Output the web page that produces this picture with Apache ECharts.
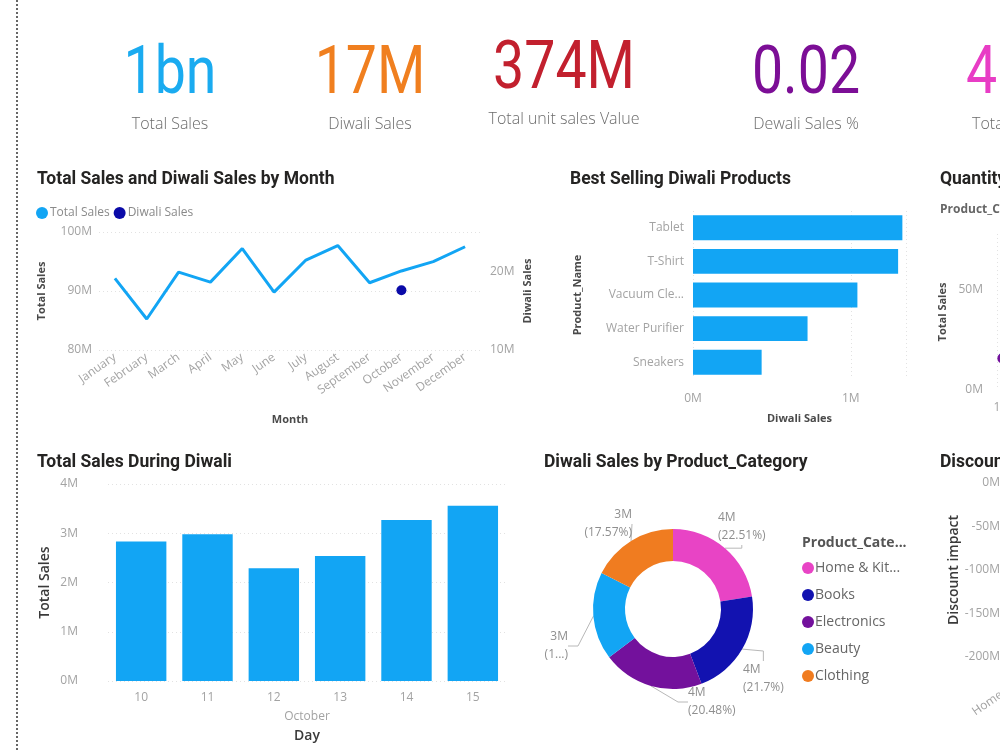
<!DOCTYPE html>
<html><head><meta charset="utf-8">
<script src="https://cdn.jsdelivr.net/npm/echarts@6/dist/echarts.min.js"></script>
<style>html,body{margin:0;padding:0;background:#fff}#c{width:1000px;height:750px}</style>
</head><body><div id="c"></div>
<script>
// ---- data ----
const months = ['January','February','March','April','May','June','July','August','September','October','November','December'];
const totalSalesByMonth = [92.15, 85.25, 93.2, 91.5, 97.2, 89.8, 95.25, 97.7, 91.4, 93.4, 94.97, 97.5]; // M
const diwaliSalesByMonth = ['-', '-', '-', '-', '-', '-', '-', '-', '-', 17.6, '-', '-']; // M
const products = ['Tablet','T-Shirt','Vacuum Cleaner','Water Purifier','Sneakers'];
const productDiwaliSales = [1.327, 1.30, 1.042, 0.726, 0.435]; // M
const diwaliDays = ['10','11','12','13','14','15'];
const diwaliDayMonth = ['October'];
const diwaliDaySales = [2.83, 2.98, 2.29, 2.54, 3.27, 3.56]; // M
const categories = ['Home & Kitchen','Books','Electronics','Beauty','Clothing'];
const categoryDiwaliSales = [3.894, 3.754, 3.543, 3.069, 3.040]; // M
const quantityPoints = [[1.15, 16.5], [1.12, 15.8], [1.18, 16.0]]; // [quantity, total sales M]
const discountImpact = [-190, -175, -165, -150, -140]; // M
const kpiValues = ['1bn','17M','374M','0.02','4'];
const kpiLabels = ['Total Sales','Diwali Sales','Total unit sales Value','Dewali Sales %','Total'];

// ---- styles / layout ----
const C = {blue:'#12A5F4', navy:'#1212B0', purple:'#73119C', pink:'#E844C5', orange:'#F07C20'};
const catColors = [C.pink, C.navy, C.purple, C.blue, C.orange];
const LBL = {color:'#A3A3A3', fontSize:12, fontFamily:'Open Sans'};
const NAME = {color:'#4a4a4a', fontSize:11, fontWeight:'bold', fontFamily:'Open Sans'};
const NAME2 = {color:'#3a3a3a', fontSize:14, fontWeight:600, fontFamily:'Open Sans'};
const SPLIT = {show:true, lineStyle:{color:'#E2E2E2', type:[1,3], width:1}};
const TT = {fontFamily:'Roboto', fontWeight:'bold', fontSize:17.5, color:'#252423'};
const M = v => v + 'M';
// pie label placement (anchor x, centre y, text alignment) per slice
const pieLabelPlace = [[718, 527, 'left'], [743, 679, 'left'], [688, 702, 'left'], [568, 646, 'right'], [632, 524, 'right']];

const kpiX = [170, 370, 564, 806, 966];
const kpiY = [76, 76, 71, 76, 76];
const kpiLY = [124, 124, 119, 124, 124];
const kpiColors = ['#1AABF0', '#F07F1F', '#C2202E', '#7C0E96', '#E83DC5'];
const graphics = [{type:'line', shape:{x1:17, y1:0, x2:17, y2:750}, style:{stroke:'#666', lineWidth:2, lineDash:[2,2]}}];
kpiValues.forEach((t, i) => {
  const last = i === 4;
  graphics.push({type:'text', x:kpiX[i], y:kpiY[i], scaleX:0.84,
    style:{text:t, fill:kpiColors[i], font:'400 66px Roboto', textAlign:last?'left':'center', textVerticalAlign:'middle'}});
  graphics.push({type:'text', x:last?972:kpiX[i], y:kpiLY[i],
    style:{text:kpiLabels[i], fill:'#6b6b6b', font:'300 16px "Open Sans"', textAlign:last?'left':'center', textVerticalAlign:'middle'}});
});

const grids = [
  {left:99, top:232, width:382, height:118},
  {left:693, top:211, width:213, height:168},
  {left:997, top:234, width:400, height:156},
  {left:108, top:484, width:398, height:197},
  {left:1006, top:483, width:420, height:174}
].map(g => Object.assign({outerBoundsMode:'none', containLabel:false}, g));
const noLine = {show:false};

const option = {
  backgroundColor:'#fff',
  animation:false,
  graphic: graphics,
  title: [
    {text:'Total Sales and Diwali Sales by Month', left:32, top:166, textStyle:TT},
    {text:'Best Selling Diwali Products', left:565, top:166, textStyle:TT},
    {text:'Quantity', left:935, top:166, textStyle:TT},
    {text:'Total Sales During Diwali', left:32, top:449, textStyle:TT},
    {text:'Diwali Sales by Product_Category', left:539, top:449, textStyle:TT},
    {text:'Discount impact', left:935, top:449, textStyle:TT},
    {text:'Product_Cate...', left:797, top:531, textStyle:{fontFamily:'Open Sans', fontWeight:'bold', fontSize:14, color:'#555'}},
    {text:'Product_Category', left:935, top:199, textStyle:{fontFamily:'Open Sans', fontWeight:'bold', fontSize:12, color:'#666'}}
  ],
  legend: [
    {data:['Total Sales','Diwali Sales'], left:31, top:202, icon:'circle', itemWidth:12, itemHeight:12, itemGap:4,
      textStyle:{color:'#8a8a8a', fontSize:12, fontFamily:'Open Sans', padding:[0,0,0,-3]}},
    {data:categories, orient:'vertical', left:797, top:556, icon:'circle', itemWidth:12, itemHeight:12, itemGap:13,
      formatter: n => n.length > 12 ? n.slice(0, 10) + '...' : n,
      textStyle:{color:'#666', fontSize:14, fontFamily:'Open Sans', padding:[0,0,0,-4]}}
  ],
  grid: grids,
  xAxis: [
    {gridIndex:0, type:'category', data:months, boundaryGap:true, axisLine:noLine, axisTick:noLine,
      axisLabel:Object.assign({}, LBL, {rotate:35, interval:0, margin:6, fontSize:12}),
      name:'Month', nameLocation:'middle', nameGap:64, nameTextStyle:NAME},
    {gridIndex:1, type:'value', min:0, max:1.35, interval:1, axisLine:noLine, axisTick:noLine,
      axisLabel:Object.assign({}, LBL, {formatter:M, margin:14, showMaxLabel:false}), splitLine:SPLIT,
      name:'Diwali Sales', nameLocation:'middle', nameGap:34, nameTextStyle:NAME},
    {gridIndex:2, type:'value', min:1, max:10, interval:1, axisLine:noLine, axisTick:noLine,
      axisLabel:Object.assign({}, LBL, {margin:12}), splitLine:SPLIT},
    {gridIndex:3, type:'category', data:diwaliDays, axisLine:noLine, axisTick:noLine,
      axisLabel:Object.assign({}, LBL, {margin:11}),
      name:'Day', nameLocation:'middle', nameGap:48, nameTextStyle:NAME2},
    {gridIndex:3, type:'category', data:diwaliDayMonth, position:'bottom', offset:19, axisLine:noLine, axisTick:noLine,
      axisLabel:Object.assign({}, LBL, {margin:11})},
    {gridIndex:4, type:'category', data:categories, axisLine:noLine, axisTick:noLine,
      axisLabel:Object.assign({}, LBL, {rotate:35, interval:0, margin:4})}
  ],
  yAxis: [
    {gridIndex:0, type:'value', min:80, max:100, interval:10, axisLine:noLine, axisTick:noLine,
      axisLabel:Object.assign({}, LBL, {formatter:M, margin:7}), splitLine:SPLIT,
      name:'Total Sales', nameLocation:'middle', nameGap:52, nameTextStyle:NAME},
    {gridIndex:0, type:'value', position:'right', min:10, max:25, interval:10, splitLine:noLine, axisLine:noLine, axisTick:noLine,
      axisLabel:Object.assign({}, LBL, {formatter:M, margin:9, showMaxLabel:false}),
      name:'Diwali Sales', nameLocation:'middle', nameGap:41, nameRotate:90, nameTextStyle:NAME},
    {gridIndex:1, type:'category', data:products, inverse:true, axisLine:noLine, axisTick:noLine,
      axisLabel:Object.assign({}, LBL, {margin:9, width:80, overflow:'truncate', ellipsis:'...'}),
      name:'Product_Name', nameLocation:'middle', nameGap:110, nameTextStyle:NAME},
    {gridIndex:2, type:'value', min:0, max:78, interval:50, splitLine:noLine, axisLine:noLine, axisTick:noLine,
      axisLabel:Object.assign({}, LBL, {formatter:M, margin:14, showMaxLabel:false}),
      name:'Total Sales', nameLocation:'middle', nameGap:49, nameTextStyle:NAME},
    {gridIndex:3, type:'value', min:0, max:4, interval:1, axisLine:noLine, axisTick:noLine,
      axisLabel:Object.assign({}, LBL, {formatter:M, margin:30}), splitLine:SPLIT,
      name:'Total Sales', nameLocation:'middle', nameGap:56, nameTextStyle:NAME2},
    {gridIndex:4, type:'value', min:-200, max:0, interval:50, axisLine:noLine, axisTick:noLine,
      axisLabel:Object.assign({}, LBL, {formatter:M, margin:6}), splitLine:SPLIT,
      name:'Discount impact', nameLocation:'middle', nameGap:40, nameTextStyle:NAME2}
  ],
  series: [
    {name:'Total Sales', type:'line', xAxisIndex:0, yAxisIndex:0, data:totalSalesByMonth, showSymbol:false, symbol:'circle',
      itemStyle:{color:C.blue}, lineStyle:{width:3, color:C.blue}},
    {name:'Diwali Sales', type:'scatter', xAxisIndex:0, yAxisIndex:1, data:diwaliSalesByMonth, symbol:'circle', symbolSize:10,
      itemStyle:{color:'#0A0AA8', opacity:1}},
    {name:'Diwali Sales by Product', type:'bar', xAxisIndex:1, yAxisIndex:2, data:productDiwaliSales, barCategoryGap:'26%',
      itemStyle:{color:C.blue}},
    {name:'Quantity Books', type:'scatter', xAxisIndex:2, yAxisIndex:3, data:[quantityPoints[0]], symbolSize:10, itemStyle:{color:C.navy, opacity:1}},
    {name:'Quantity Electronics', type:'scatter', xAxisIndex:2, yAxisIndex:3, data:[quantityPoints[1]], symbolSize:10, itemStyle:{color:C.purple, opacity:1}},
    {name:'Quantity Home', type:'scatter', xAxisIndex:2, yAxisIndex:3, data:[quantityPoints[2]], symbolSize:10, itemStyle:{color:C.pink, opacity:1}},
    {name:'Total Sales During Diwali', type:'bar', xAxisIndex:3, yAxisIndex:4, data:diwaliDaySales, barCategoryGap:'24%',
      itemStyle:{color:C.blue}},
    {name:'Discount impact', type:'bar', xAxisIndex:5, yAxisIndex:5, data:discountImpact, itemStyle:{color:C.blue}},
    {name:'Diwali Sales by Category', type:'pie', center:[673, 609], radius:[48, 80], startAngle:90, clockwise:true,
      color:catColors, avoidLabelOverlap:false,
      data: categories.map((n, i) => ({name:n, value:categoryDiwaliSales[i]})),
      itemStyle:{borderColor:'#fff', borderWidth:0},
      label:{show:true, position:'outside', color:'#8f8f8f', fontSize:12, fontFamily:'Open Sans', lineHeight:18,
        formatter: p => Math.round(p.value) + 'M\n(' + (p.name === 'Beauty' ? '1...' : p.percent + '%') + ')'},
      labelLine:{show:true, length:8, length2:10, lineStyle:{color:'#B8B8B8', width:1}},
      labelLayout: p => {
        const q = pieLabelPlace[p.dataIndex];
        return {x:q[0], y:q[1], align:q[2], verticalAlign:'middle'};
      }}
  ]
};
const chart = echarts.init(document.getElementById('c'), null, {renderer:'canvas'});
chart.setOption(option);
</script></body></html>
